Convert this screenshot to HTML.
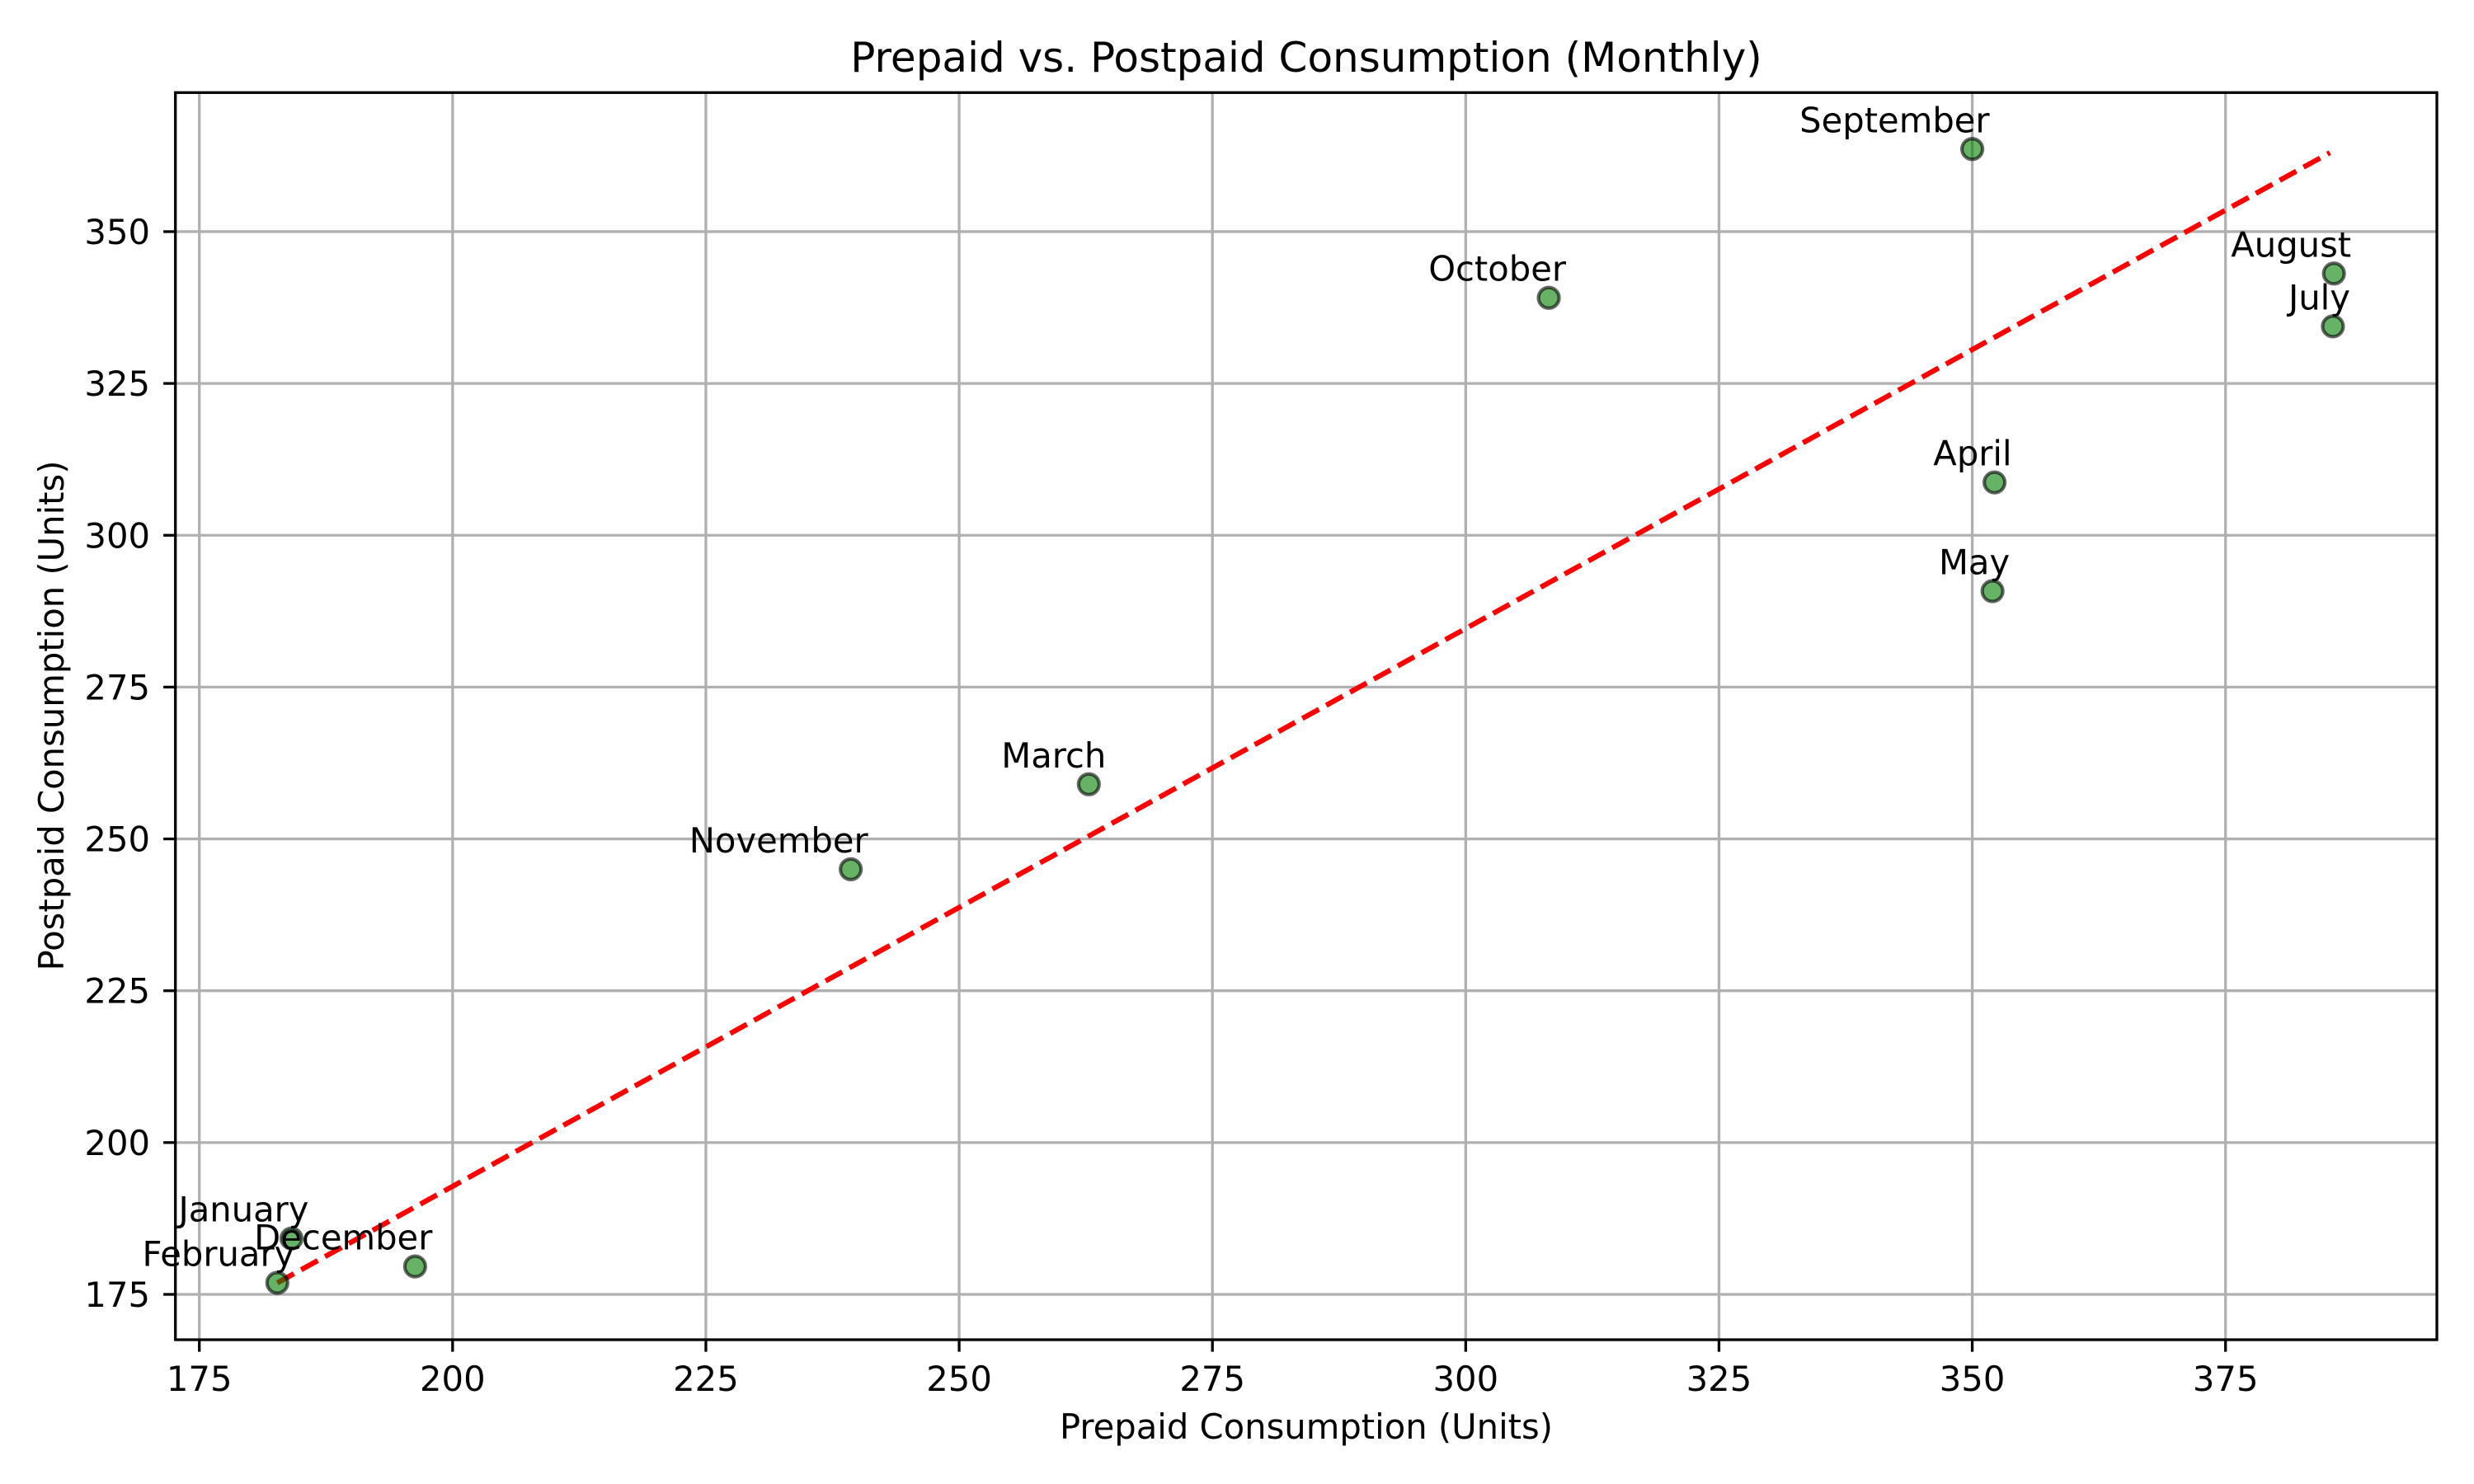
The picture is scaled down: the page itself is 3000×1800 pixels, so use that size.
<!DOCTYPE html>
<html><head><meta charset="utf-8"><style>
html,body{margin:0;padding:0;background:#fff;}
svg{display:block;font-family:"DejaVu Sans","Liberation Sans",sans-serif;}
</style></head><body>
<svg id="chart" width="3000" height="1800" viewBox="0 0 3000 1800" xmlns="http://www.w3.org/2000/svg">
<rect x="0" y="0" width="3000" height="1800" fill="#ffffff"/>
<g id="grid"></g>
<g id="trend"></g>
<g id="points"></g>
<g id="labels"></g>
<rect x="212.7" y="112.3" width="2742.3" height="1512.7" fill="none" stroke="#000" stroke-width="3.3"/>
<g id="ticks"></g>
<text x="1584" y="87" font-size="50" text-anchor="middle">Prepaid vs. Postpaid Consumption (Monthly)</text>
<text x="1584" y="1745" font-size="41.7" text-anchor="middle">Prepaid Consumption (Units)</text>
<text x="0" y="0" font-size="41.7" text-anchor="middle" transform="translate(77,868) rotate(-90)">Postpaid Consumption (Units)</text>
</svg>
<script>
const months = ["January","February","March","April","May","July","August","September","October","November","December"];
const prepaid = [184.1,182.7,262.8,352.2,352.0,385.6,385.7,350.0,308.2,239.3,196.3];
const postpaid = [184.2,176.9,259.0,308.7,290.8,334.4,343.1,363.6,339.1,245.0,179.6];
const trendX = [182.7,385.3];
const trendY = [176.9,363.0];
const xTicks = [175,200,225,250,275,300,325,350,375];
const yTicks = [175,200,225,250,275,300,325,350];

const NS = "http://www.w3.org/2000/svg";
const X0 = 175, PX0 = 241.7, XS = 12.285;
const Y0 = 175, PY0 = 1570, YS = 7.366;
const L = 212.7, R = 2955, T = 112.3, B = 1625;
function sx(v){ return PX0 + (v - X0) * XS; }
function sy(v){ return PY0 - (v - Y0) * YS; }
function mk(tag, attrs, parent){
  const e = document.createElementNS(NS, tag);
  for (const k in attrs) e.setAttribute(k, attrs[k]);
  parent.appendChild(e);
  return e;
}
const grid = document.getElementById('grid');
const ticks = document.getElementById('ticks');
xTicks.forEach(v => {
  const x = sx(v);
  const g = mk('line', {x1:x, x2:x, y1:T, y2:B, stroke:'#b0b0b0', 'stroke-width':3.3}, grid);
  
  
  const t = mk('line', {x1:x, x2:x, y1:B, y2:B+14.6, stroke:'#000', 'stroke-width':3.3}, ticks);
  
  
  const lb = mk('text', {x:x, y:1687, 'font-size':41.7, 'text-anchor':'middle'}, ticks);
  lb.textContent = v;
  
  
});
yTicks.forEach(v => {
  const y = sy(v);
  const g = mk('line', {x1:L, x2:R, y1:y, y2:y, stroke:'#b0b0b0', 'stroke-width':3.3}, grid);
  
  
  const t = mk('line', {x1:L-14.6, x2:L, y1:y, y2:y, stroke:'#000', 'stroke-width':3.3}, ticks);
  
  
  const lb = mk('text', {x:182, y:y+15, 'font-size':41.7, 'text-anchor':'end'}, ticks);
  lb.textContent = v;
  
  
});
const tl = mk('line', {x1:sx(trendX[0]), y1:sy(trendY[0]), x2:sx(trendX[1]), y2:sy(trendY[1]), stroke:'#ff0000', 'stroke-width':6.25, 'stroke-dasharray':'23 10'}, document.getElementById('trend'));



const pts = document.getElementById('points');
const lbs = document.getElementById('labels');
for (let i = 0; i < months.length; i++){
  const cx = sx(prepaid[i]), cy = sy(postpaid[i]);
  const c = mk('circle', {cx:cx, cy:cy, r:12.5, fill:'#008000', 'fill-opacity':0.6, stroke:'#000', 'stroke-opacity':0.6, 'stroke-width':4.2}, pts);
  
  
  const t = mk('text', {x:cx+21, y:cy-20.5, 'font-size':41.7, 'text-anchor':'end'}, lbs);
  t.textContent = months[i];
  
  
}
</script>
</body></html>
